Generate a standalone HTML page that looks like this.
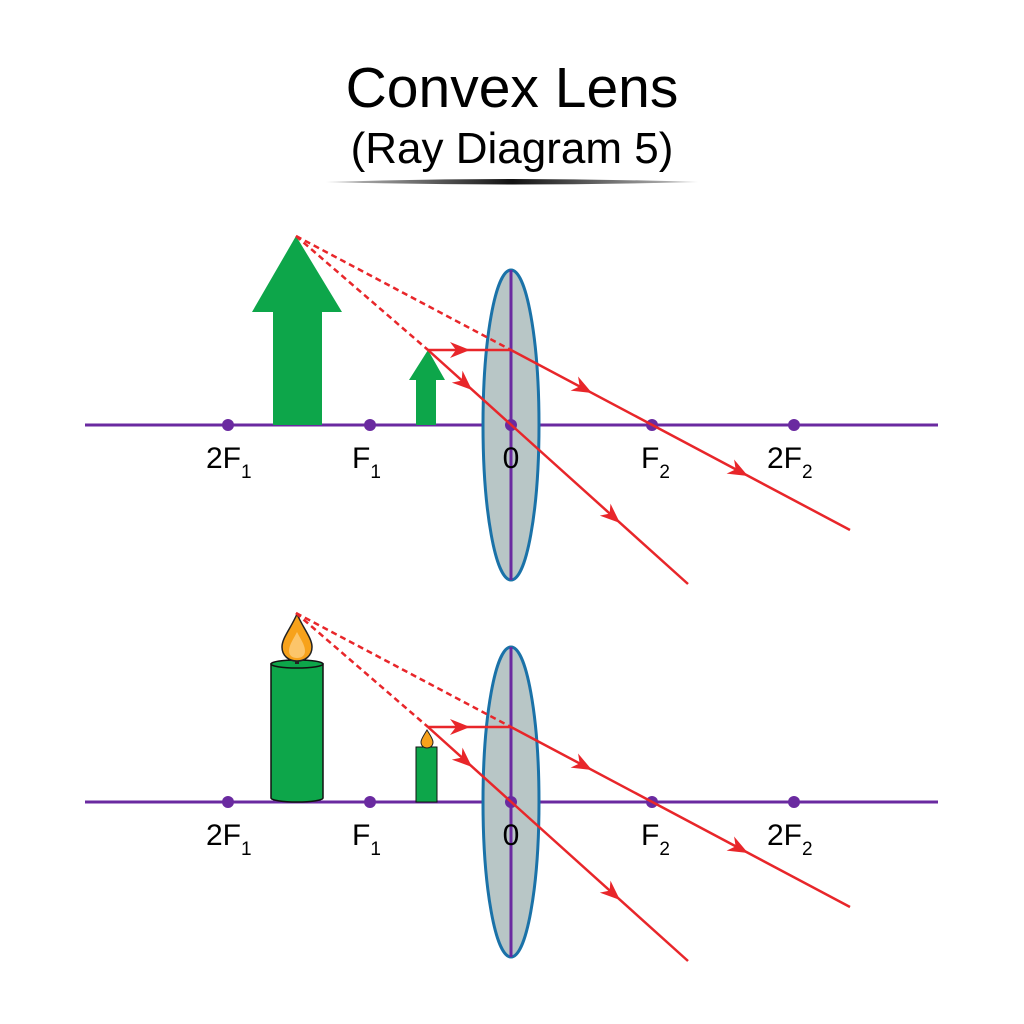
<!DOCTYPE html>
<html><head><meta charset="utf-8"><style>
html,body{margin:0;padding:0;background:#fff;}
svg{display:block;}
text{font-family:"Liberation Sans",sans-serif;fill:#000;}
</style></head><body>
<svg width="1024" height="1024" viewBox="0 0 1024 1024" xmlns="http://www.w3.org/2000/svg">
<defs>
<linearGradient id="ul" x1="0" x2="1">
<stop offset="0" stop-color="#000" stop-opacity="0.2"/><stop offset="0.5" stop-color="#111"/><stop offset="1" stop-color="#000" stop-opacity="0.2"/>
</linearGradient>
</defs>
<text x="512" y="107" font-size="57" text-anchor="middle">Convex Lens</text>
<text x="512" y="163" font-size="44" text-anchor="middle">(Ray Diagram 5)</text>
<path d="M326,182 Q512,176 698,182 Q512,187 326,182 Z" fill="url(#ul)"/>

<!-- TOP DIAGRAM -->
<g>
<line x1="85" y1="425" x2="938" y2="425" stroke="#6a2aa0" stroke-width="3"/>
<ellipse cx="511" cy="425" rx="28" ry="155" fill="#b8c6c6" stroke="#1a72a8" stroke-width="3"/>
<line x1="511" y1="270" x2="511" y2="580" stroke="#6a2aa0" stroke-width="3"/>
<g fill="#6a2aa0"><circle cx="228" cy="425" r="6"/><circle cx="370" cy="425" r="6"/><circle cx="511" cy="425" r="6"/><circle cx="652" cy="425" r="6"/><circle cx="794" cy="425" r="6"/></g>
<polygon points="296,236 342,312 322,312 322,425 273,425 273,312 252,312" fill="#0da64a"/>
<polygon points="428,350 445,380 436,380 436,425 416,425 416,380 409,380" fill="#0da64a"/>
<g stroke="#e8262a" stroke-width="2.5" fill="none">
<line x1="296" y1="236" x2="428" y2="350" stroke-dasharray="6,4"/>
<line x1="296" y1="236" x2="511" y2="350" stroke-dasharray="6,4"/>
<polyline points="428,350 511,350 850,530"/>
<line x1="428" y1="350" x2="688" y2="584"/>
</g>
<g fill="#e8262a">
<path d="M0,0 L-20,-8 L-14,0 L-20,8 Z" transform="translate(470,350)"/>
<path d="M0,0 L-20,-8 L-14,0 L-20,8 Z" transform="translate(472,390) rotate(42)"/>
<path d="M0,0 L-20,-8 L-14,0 L-20,8 Z" transform="translate(592,393) rotate(28)"/>
<path d="M0,0 L-20,-8 L-14,0 L-20,8 Z" transform="translate(748,476) rotate(28)"/>
<path d="M0,0 L-20,-8 L-14,0 L-20,8 Z" transform="translate(620,523) rotate(42)"/>
</g>
<g font-size="30">
<text x="206" y="468">2F<tspan font-size="19" dy="10">1</tspan></text>
<text x="352" y="468">F<tspan font-size="19" dy="10">1</tspan></text>
<text x="511" y="468" text-anchor="middle">0</text>
<text x="641" y="468">F<tspan font-size="19" dy="10">2</tspan></text>
<text x="767" y="468">2F<tspan font-size="19" dy="10">2</tspan></text>
</g>
</g>

<!-- BOTTOM DIAGRAM -->
<g>
<line x1="85" y1="802" x2="938" y2="802" stroke="#6a2aa0" stroke-width="3"/>
<ellipse cx="511" cy="802" rx="28" ry="155" fill="#b8c6c6" stroke="#1a72a8" stroke-width="3"/>
<line x1="511" y1="647" x2="511" y2="957" stroke="#6a2aa0" stroke-width="3"/>
<g fill="#6a2aa0"><circle cx="228" cy="802" r="6"/><circle cx="370" cy="802" r="6"/><circle cx="511" cy="802" r="6"/><circle cx="652" cy="802" r="6"/><circle cx="794" cy="802" r="6"/></g>
<path d="M271,664 L271,798 A26,4 0 0 0 323,798 L323,664 Z" fill="#0da64a" stroke="#111" stroke-width="1.5"/>
<ellipse cx="297" cy="664" rx="26" ry="4" fill="#0da64a" stroke="#111" stroke-width="1.5"/>
<rect x="295" y="657" width="4" height="7" fill="#222"/>
<path d="M297,614 C303,628 312,638 312,647 C312,656 305,661 297,661 C289,661 282,656 282,647 C282,638 291,628 297,614 Z" fill="#f7a21b" stroke="#222" stroke-width="1.5"/>
<path d="M297,632 C301,640 305,645 305,651 C305,656 301,658 297,658 C293,658 289,656 289,651 C289,645 293,640 297,632 Z" fill="#fcc56a"/>
<rect x="416" y="747" width="21" height="55" fill="#0da64a" stroke="#111" stroke-width="1"/>
<path d="M427,730 C430,735 433,739 433,742 C433,746 430,748 427,748 C424,748 421,746 421,742 C421,739 424,735 427,730 Z" fill="#f7a21b" stroke="#222" stroke-width="1"/>
<g stroke="#e8262a" stroke-width="2.5" fill="none">
<line x1="296" y1="613" x2="428" y2="727" stroke-dasharray="6,4"/>
<line x1="296" y1="613" x2="511" y2="727" stroke-dasharray="6,4"/>
<polyline points="428,727 511,727 850,907"/>
<line x1="428" y1="727" x2="688" y2="961"/>
</g>
<g fill="#e8262a">
<path d="M0,0 L-20,-8 L-14,0 L-20,8 Z" transform="translate(470,727)"/>
<path d="M0,0 L-20,-8 L-14,0 L-20,8 Z" transform="translate(472,767) rotate(42)"/>
<path d="M0,0 L-20,-8 L-14,0 L-20,8 Z" transform="translate(592,770) rotate(28)"/>
<path d="M0,0 L-20,-8 L-14,0 L-20,8 Z" transform="translate(748,853) rotate(28)"/>
<path d="M0,0 L-20,-8 L-14,0 L-20,8 Z" transform="translate(620,900) rotate(42)"/>
</g>
<g font-size="30">
<text x="206" y="845">2F<tspan font-size="19" dy="10">1</tspan></text>
<text x="352" y="845">F<tspan font-size="19" dy="10">1</tspan></text>
<text x="511" y="845" text-anchor="middle">0</text>
<text x="641" y="845">F<tspan font-size="19" dy="10">2</tspan></text>
<text x="767" y="845">2F<tspan font-size="19" dy="10">2</tspan></text>
</g>
</g>
</svg>
</body></html>
